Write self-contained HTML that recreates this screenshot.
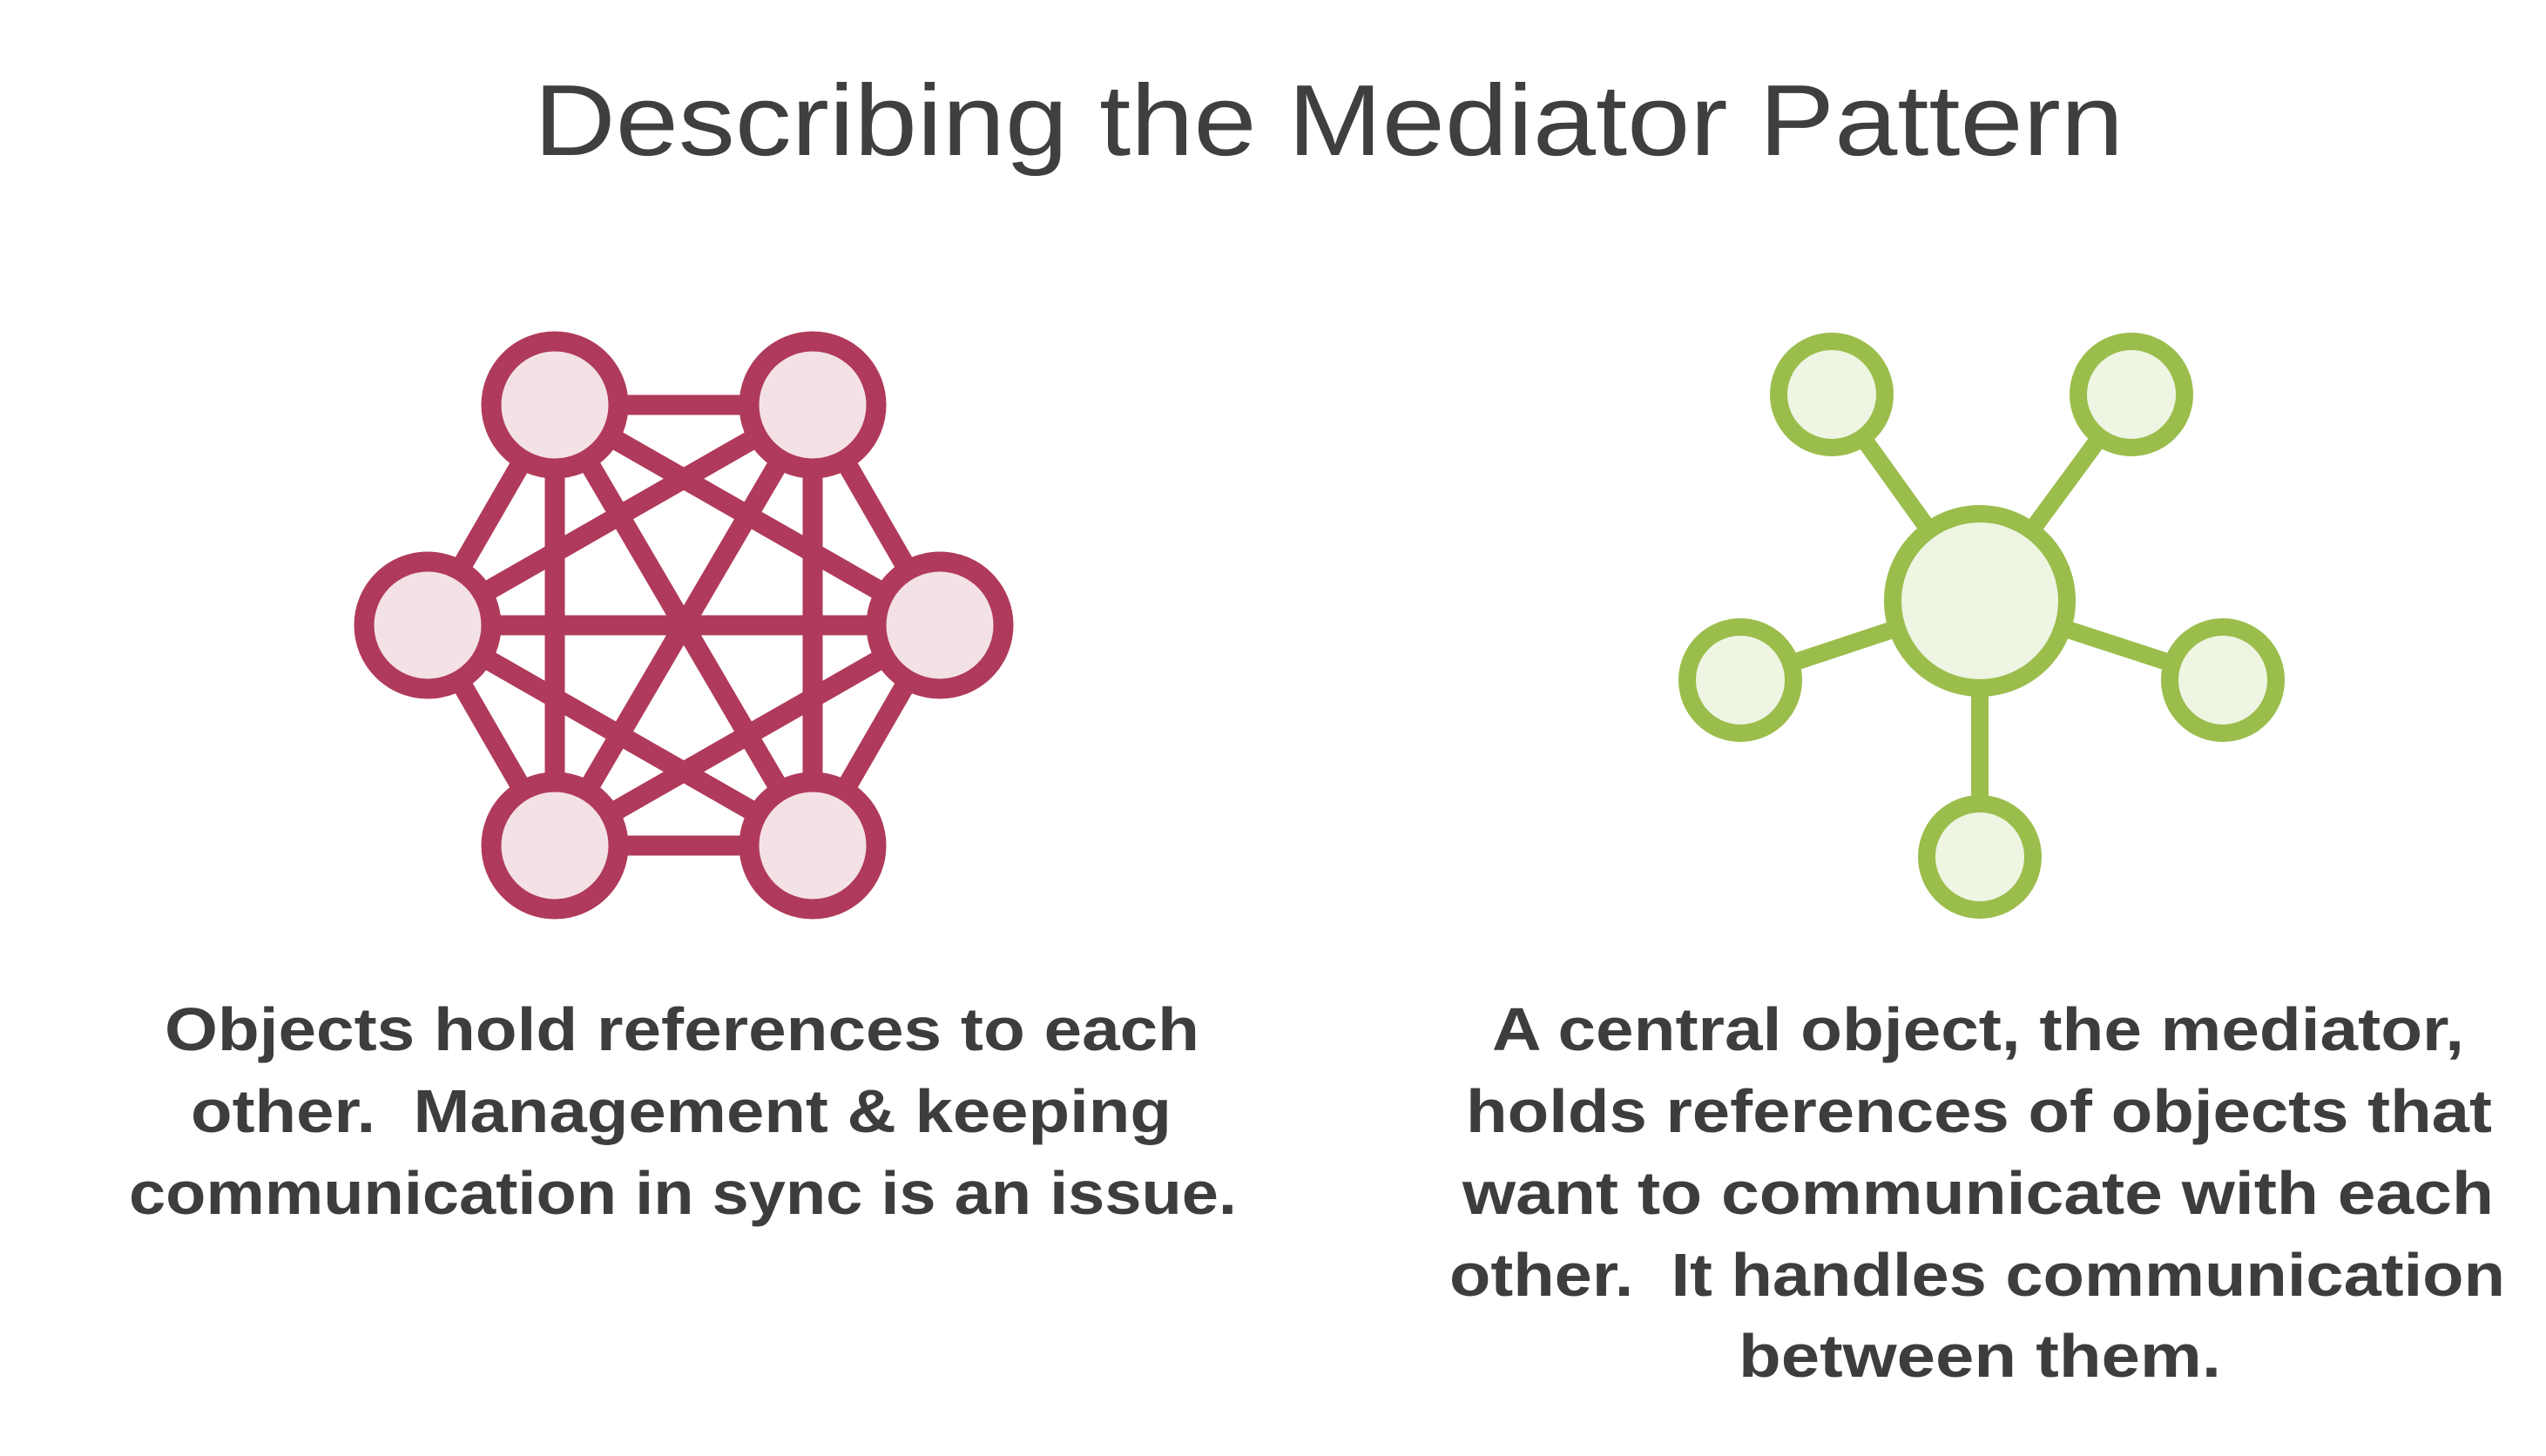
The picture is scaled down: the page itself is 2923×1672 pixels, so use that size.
<!DOCTYPE html>
<html><head><meta charset="utf-8"><style>
html,body{margin:0;padding:0;background:#fff;}
svg{display:block;}
</style></head><body>
<svg width="2923" height="1672" viewBox="0 0 2923 1672" xmlns="http://www.w3.org/2000/svg">
<rect width="2923" height="1672" fill="#fff"/>
<text x="613" y="178" font-family="Liberation Sans, sans-serif" font-size="116" fill="#3f3f3f" textLength="1825" lengthAdjust="spacingAndGlyphs">Describing the Mediator Pattern</text>

<g stroke="#b03a5b" stroke-width="23" stroke-linecap="butt">
<line x1="637" y1="465" x2="933" y2="465"/>
<line x1="637" y1="971" x2="933" y2="971"/>
<line x1="491" y1="718" x2="1079" y2="718"/>
<line x1="637" y1="465" x2="637" y2="971"/>
<line x1="933" y1="465" x2="933" y2="971"/>
<line x1="637" y1="465" x2="491" y2="718"/>
<line x1="933" y1="465" x2="1079" y2="718"/>
<line x1="637" y1="971" x2="491" y2="718"/>
<line x1="933" y1="971" x2="1079" y2="718"/>
<line x1="637" y1="465" x2="1079" y2="718"/>
<line x1="933" y1="465" x2="491" y2="718"/>
<line x1="637" y1="971" x2="1079" y2="718"/>
<line x1="933" y1="971" x2="491" y2="718"/>
<line x1="637" y1="465" x2="933" y2="971"/>
<line x1="933" y1="465" x2="637" y2="971"/>
</g>
<g stroke="#b03a5b" stroke-width="23" fill="#f3e1e6">
<circle cx="637" cy="465" r="73"/>
<circle cx="933" cy="465" r="73"/>
<circle cx="491" cy="718" r="73"/>
<circle cx="1079" cy="718" r="73"/>
<circle cx="637" cy="971" r="73"/>
<circle cx="933" cy="971" r="73"/>
</g>

<g stroke="#9bbd4c" stroke-width="20">
<line x1="2273" y1="690" x2="2103" y2="453"/>
<line x1="2273" y1="690" x2="2447" y2="453"/>
<line x1="2273" y1="690" x2="1998" y2="781"/>
<line x1="2273" y1="690" x2="2552" y2="781"/>
<line x1="2273" y1="690" x2="2273" y2="984"/>
</g>
<g stroke="#9bbd4c" stroke-width="20" fill="#eef5e3">
<circle cx="2273" cy="690" r="100"/>
<circle cx="2103" cy="453" r="61"/>
<circle cx="2447" cy="453" r="61"/>
<circle cx="1998" cy="781" r="61"/>
<circle cx="2552" cy="781" r="61"/>
<circle cx="2273" cy="984" r="61"/>
</g>

<g font-family="Liberation Sans, sans-serif" font-weight="bold" font-size="70" fill="#3d3d3d">
<text x="189" y="1206" textLength="1188" lengthAdjust="spacingAndGlyphs">Objects hold references to each</text>
<text x="219" y="1300" textLength="1126" lengthAdjust="spacingAndGlyphs" xml:space="preserve">other.  Management &amp; keeping</text>
<text x="148" y="1394" textLength="1272" lengthAdjust="spacingAndGlyphs">communication in sync is an issue.</text>

<text x="1713" y="1206" textLength="1116" lengthAdjust="spacingAndGlyphs">A central object, the mediator,</text>
<text x="1683" y="1300" textLength="1178" lengthAdjust="spacingAndGlyphs">holds references of objects that</text>
<text x="1679" y="1394" textLength="1184" lengthAdjust="spacingAndGlyphs">want to communicate with each</text>
<text x="1664" y="1488" textLength="1212" lengthAdjust="spacingAndGlyphs" xml:space="preserve">other.  It handles communication</text>
<text x="1996" y="1581" textLength="554" lengthAdjust="spacingAndGlyphs">between them.</text>
</g>
</svg>
</body></html>
